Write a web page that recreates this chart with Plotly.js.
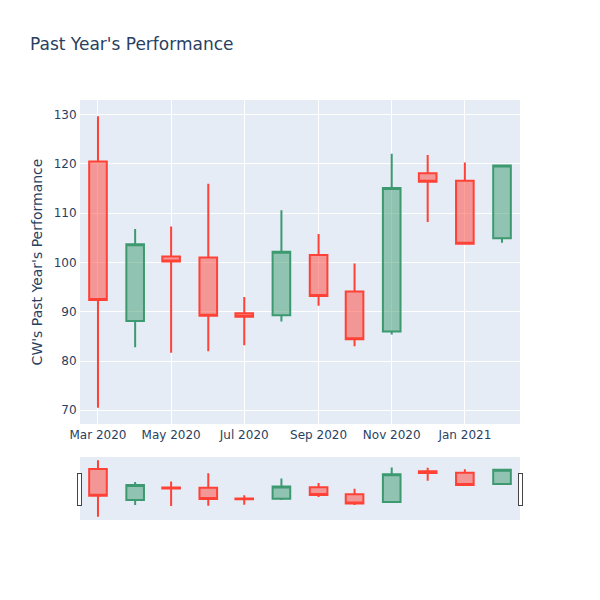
<!DOCTYPE html>
<html>
<head>
<meta charset="utf-8">
<script src="https://cdn.plot.ly/plotly-3.0.1.min.js"></script>
<style>html,body{margin:0;padding:0;}</style>
</head>
<body>
<div id="chart" style="width:600px;height:600px;"></div>
<script>
const dates = ['2020-03-01', '2020-04-01', '2020-05-01', '2020-06-01', '2020-07-01', '2020-08-01',
  '2020-09-01', '2020-10-01', '2020-11-01', '2020-12-01', '2021-01-01', '2021-02-01'];
const openVals = [120.5, 88.1, 101.2, 101.0, 89.7, 89.3, 101.5, 94.1, 86.0, 118.1, 116.6, 104.9];
const highVals = [129.7, 106.8, 107.3, 116.0, 93.0, 110.6, 105.8, 99.8, 122.1, 121.8, 120.3, 119.7];
const lowVals = [70.5, 82.8, 81.7, 82.0, 83.2, 88.0, 91.2, 83.0, 85.4, 108.2, 103.7, 104.0];
const closeVals = [92.4, 103.7, 100.2, 89.2, 89.0, 102.2, 93.2, 84.4, 115.1, 116.4, 103.8, 119.7];

const trace = {
  x: dates,
  open: openVals,
  high: highVals,
  low: lowVals,
  close: closeVals,
  type: 'candlestick'
};

const layout = {
  width: 600,
  height: 600,
  font: { family: '"DejaVu Sans", verdana, arial, sans-serif', color: '#2a3f5f' },
  paper_bgcolor: 'white',
  plot_bgcolor: '#E5ECF6',
  title: { text: "Past Year's Performance", x: 0.05, font: { size: 17 } },
  yaxis: {
    title: { text: "CW's Past Year's Performance" },
    gridcolor: 'white', linecolor: 'white', zerolinecolor: 'white', gridwidth: 1, ticks: ''
  },
  xaxis: {
    gridcolor: 'white', linecolor: 'white', zerolinecolor: 'white', ticks: '',
    rangeslider: { visible: true }
  }
};

Plotly.newPlot('chart', [trace], layout, { displayModeBar: false });
</script>
</body>
</html>
